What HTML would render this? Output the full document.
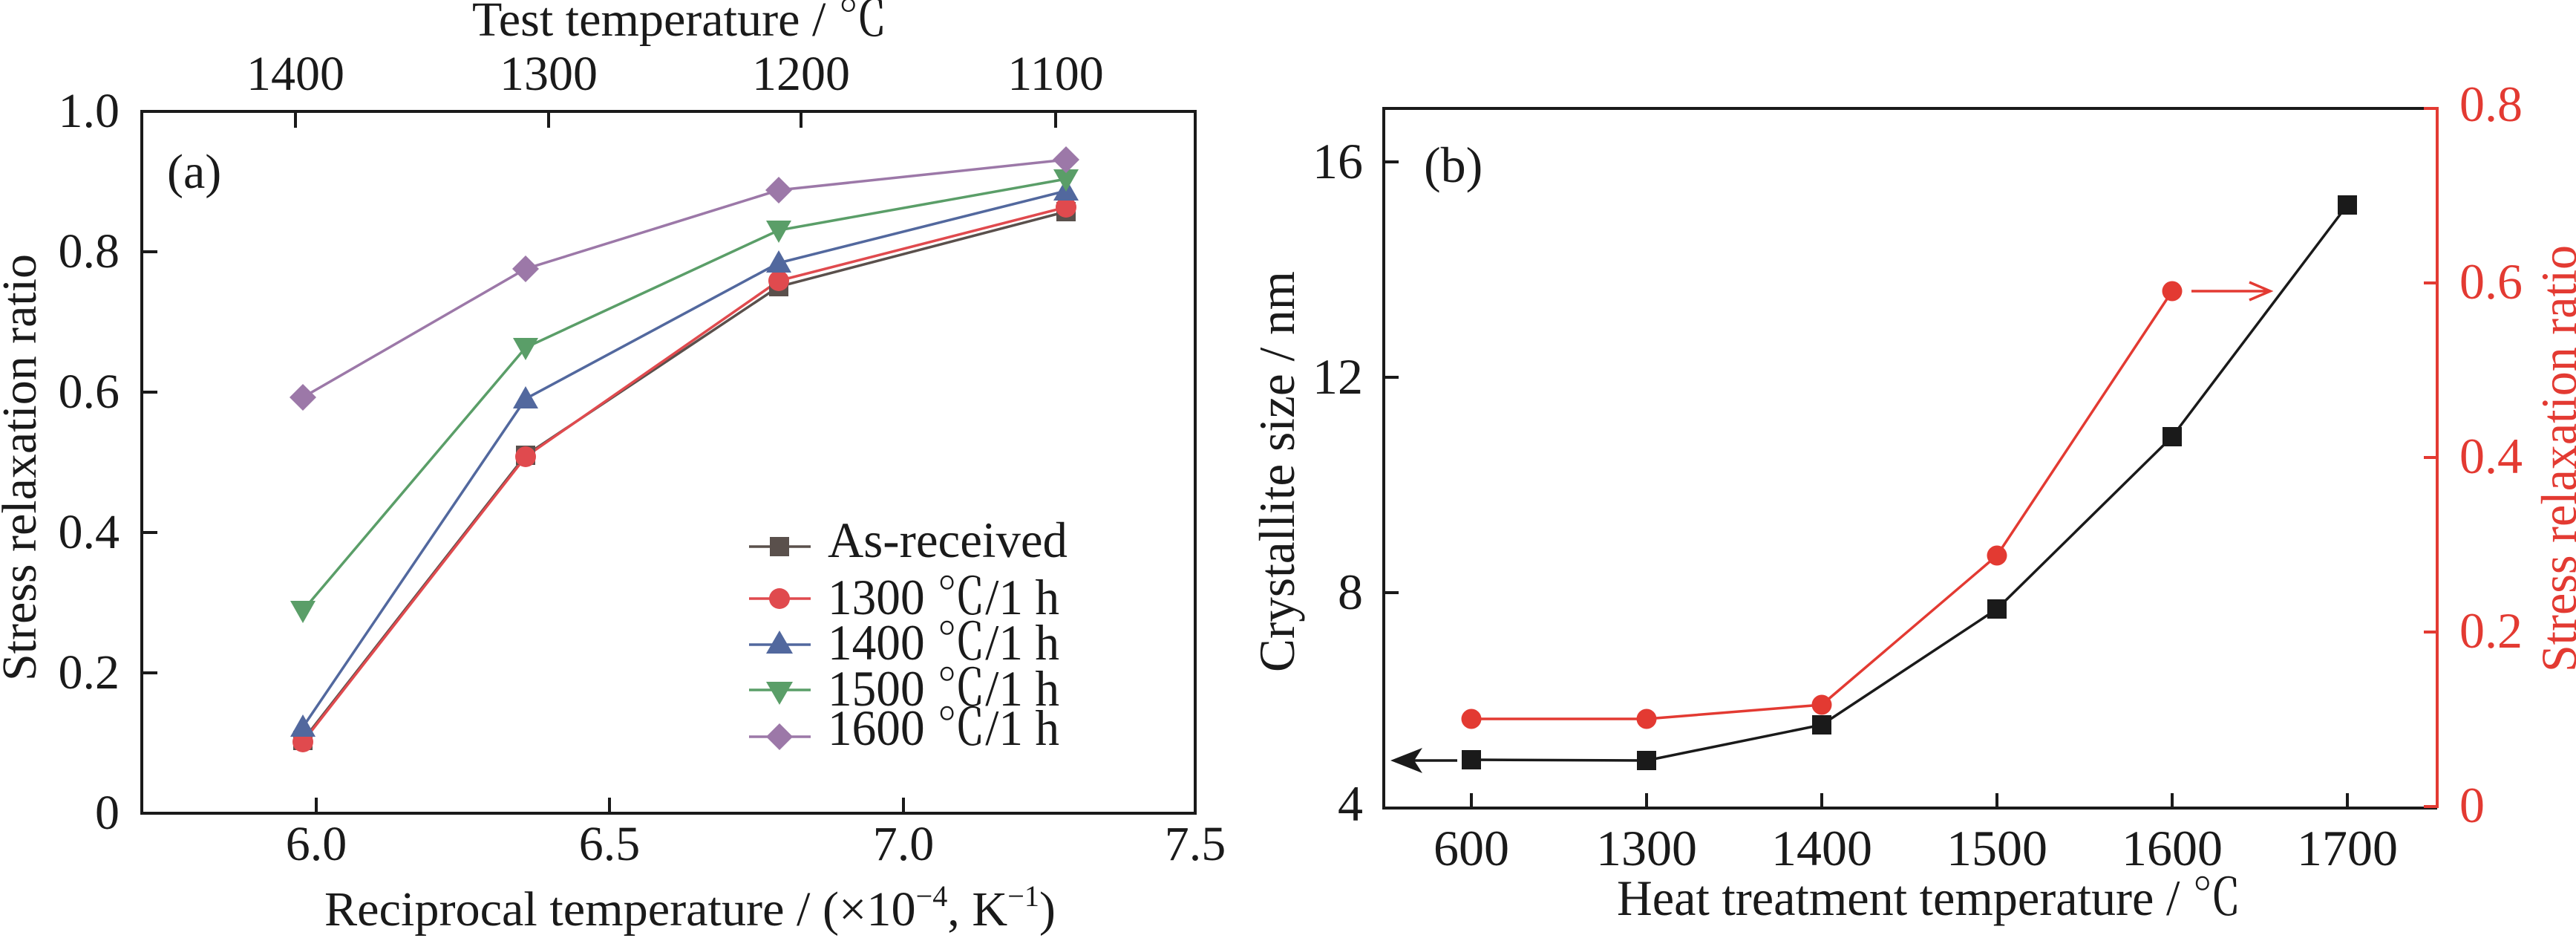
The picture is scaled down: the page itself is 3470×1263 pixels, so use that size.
<!DOCTYPE html>
<html><head><meta charset="utf-8"><style>
html,body{margin:0;padding:0;background:#fff;}
svg{display:block;}
text{font-family:"Liberation Serif","Noto Serif CJK SC",serif;fill:#1a1a1a;}
</style></head><body>
<svg width="3470" height="1263" viewBox="0 0 3470 1263" xmlns="http://www.w3.org/2000/svg">
<!-- Panel a -->
<g stroke="#1a1a1a" stroke-width="4" fill="none">
<rect x="191" y="150" width="1419" height="945"/>
<path d="M191 339h21M191 528h21M191 717h21M191 906h21"/>
<path d="M426 1095v-21M821 1095v-21M1217 1095v-21"/>
<path d="M398 150v22M739 150v22M1079 150v22M1422 150v22"/>
</g>
<g font-size="66" text-anchor="end">
<text x="161" y="171">1.0</text><text x="161" y="360">0.8</text><text x="161" y="549">0.6</text>
<text x="161" y="738">0.4</text><text x="161" y="927">0.2</text><text x="161" y="1116">0</text>
</g>
<g font-size="66" text-anchor="middle">
<text x="426" y="1158">6.0</text><text x="821" y="1158">6.5</text><text x="1217" y="1158">7.0</text><text x="1610" y="1158">7.5</text>
<text x="398" y="121">1400</text><text x="739" y="121">1300</text><text x="1079" y="121">1200</text><text x="1422" y="121">1100</text>
</g>
<text x="636" y="48" font-size="66" textLength="559" lengthAdjust="spacingAndGlyphs">Test temperature / ℃</text>
<text x="437" y="1246" font-size="66" textLength="985" lengthAdjust="spacingAndGlyphs">Reciprocal temperature / (×10<tspan font-size="40" dy="-26">−4</tspan><tspan dy="26">, K</tspan><tspan font-size="40" dy="-26">−1</tspan><tspan dy="26">)</tspan></text>
<text transform="translate(48,917) rotate(-90)" font-size="66" textLength="575" lengthAdjust="spacingAndGlyphs">Stress relaxation ratio</text>
<text x="225" y="253" font-size="66">(a)</text>
<!-- series a -->
<g fill="none" stroke-width="3.5">
<polyline stroke="#5a504c" points="408,997 708,613 1049,386 1436,285"/>
<polyline stroke="#e04a4e" points="408,999 708,615 1049,378 1436,279"/>
<polyline stroke="#52689e" points="408,979 708,537 1049,354 1436,257"/>
<polyline stroke="#5a9e68" points="408,822 708,468 1049,310 1436,241"/>
<polyline stroke="#9c78a8" points="408,535 708,362 1049,256 1436,215"/>
</g>
<g fill="#5a504c"><rect x="395" y="984" width="26" height="26"/><rect x="695" y="600" width="26" height="26"/><rect x="1036" y="373" width="26" height="26"/><rect x="1423" y="272" width="26" height="26"/></g>
<g fill="#e04a4e"><circle cx="408" cy="999" r="14"/><circle cx="708" cy="615" r="14"/><circle cx="1049" cy="378" r="14"/><circle cx="1436" cy="279" r="14"/></g>
<g fill="#52689e"><path d="M408 962l17 30h-34z"/><path d="M708 520l17 30h-34z"/><path d="M1049 337l17 30h-34z"/><path d="M1436 240l17 30h-34z"/></g>
<g fill="#5a9e68"><path d="M408 839l17-30h-34z"/><path d="M708 485l17-30h-34z"/><path d="M1049 327l17-30h-34z"/><path d="M1436 258l17-30h-34z"/></g>
<g fill="#9c78a8"><path d="M408 517l18 18-18 18-18-18z"/><path d="M708 344l18 18-18 18-18-18z"/><path d="M1049 238l18 18-18 18-18-18z"/><path d="M1436 197l18 18-18 18-18-18z"/></g>
<!-- legend -->
<g stroke-width="3.5">
<path d="M1009 736h83" stroke="#5a504c"/><path d="M1009 806h83" stroke="#e04a4e"/><path d="M1009 868h83" stroke="#52689e"/><path d="M1009 929h83" stroke="#5a9e68"/><path d="M1009 992h83" stroke="#9c78a8"/>
</g>
<rect x="1037" y="723" width="26" height="26" fill="#5a504c"/>
<circle cx="1050" cy="806" r="14" fill="#e04a4e"/>
<path d="M1050 849l18 31h-36z" fill="#52689e"/>
<path d="M1050 949l18-31h-36z" fill="#5a9e68"/>
<path d="M1050 974l18 18-18 18-18-18z" fill="#9c78a8"/>
<g font-size="68">
<text x="1115" y="750" textLength="323" lengthAdjust="spacingAndGlyphs">As-received</text>
<text x="1115" y="827" textLength="312" lengthAdjust="spacingAndGlyphs">1300 ℃/1 h</text>
<text x="1115" y="888" textLength="312" lengthAdjust="spacingAndGlyphs">1400 ℃/1 h</text>
<text x="1115" y="950" textLength="312" lengthAdjust="spacingAndGlyphs">1500 ℃/1 h</text>
<text x="1115" y="1003" textLength="312" lengthAdjust="spacingAndGlyphs">1600 ℃/1 h</text>
</g>
<!-- Panel b -->
<g stroke="#1a1a1a" stroke-width="4" fill="none">
<path d="M3265 146H1864V1088H3283"/>
<path d="M1864 218h20M1864 508h20M1864 798h20"/>
<path d="M1982 1088v-20M2218 1088v-20M2454 1088v-20M2690 1088v-20M2926 1088v-20M3162 1088v-20"/>
</g>
<g stroke="#e33a32" stroke-width="4" fill="none">
<path d="M3265 146H3283V1088"/>
<path d="M3283 381h-18M3283 616h-18M3283 851h-18M3283 1086h-18"/>
</g>
<g font-size="68" text-anchor="end">
<text x="1836" y="240">16</text><text x="1836" y="530">12</text><text x="1836" y="820">8</text><text x="1836" y="1105">4</text>
</g>
<g font-size="68" fill="#e33a32" style="fill:#e33a32">
<text x="3313" y="163" style="fill:#e33a32">0.8</text><text x="3313" y="402" style="fill:#e33a32">0.6</text><text x="3313" y="637" style="fill:#e33a32">0.4</text><text x="3313" y="872" style="fill:#e33a32">0.2</text><text x="3313" y="1107" style="fill:#e33a32">0</text>
</g>
<g font-size="68" text-anchor="middle">
<text x="1982" y="1165">600</text><text x="2218" y="1165">1300</text><text x="2454" y="1165">1400</text><text x="2690" y="1165">1500</text><text x="2926" y="1165">1600</text><text x="3162" y="1165">1700</text>
</g>
<text x="2178" y="1232" font-size="68" textLength="841" lengthAdjust="spacingAndGlyphs">Heat treatment temperature / ℃</text>
<text transform="translate(1743,905) rotate(-90)" font-size="68" textLength="540" lengthAdjust="spacingAndGlyphs">Crystallite size / nm</text>
<text transform="translate(3470,905) rotate(-90)" font-size="68" textLength="575" lengthAdjust="spacingAndGlyphs" style="fill:#e33a32">Stress relaxation ratio</text>
<text x="1918" y="245" font-size="68">(b)</text>
<g fill="none" stroke-width="3.5">
<polyline stroke="#1a1a1a" points="1982,1023 2218,1024 2454,976 2690,820 2926,588 3162,276"/>
<polyline stroke="#e33a32" points="1982,968 2218,968 2454,949 2690,748 2926,392"/>
<path d="M1963 1024H1900" stroke="#1a1a1a"/>
<path d="M2952 392H3058M3030 380l28 12-28 12" stroke="#e33a32"/>
</g>
<path d="M1873 1024l43-17-11 17 11 17z" fill="#1a1a1a"/>
<g fill="#1a1a1a">
<rect x="1969" y="1010" width="26" height="26"/><rect x="2205" y="1011" width="26" height="26"/><rect x="2441" y="963" width="26" height="26"/><rect x="2677" y="807" width="26" height="26"/><rect x="2913" y="575" width="26" height="26"/><rect x="3149" y="263" width="26" height="26"/>
</g>
<g fill="#e33a32">
<circle cx="1982" cy="968" r="13.5"/><circle cx="2218" cy="968" r="13.5"/><circle cx="2454" cy="949" r="13.5"/><circle cx="2690" cy="748" r="13.5"/><circle cx="2926" cy="392" r="13.5"/>
</g>
</svg>
</body></html>
